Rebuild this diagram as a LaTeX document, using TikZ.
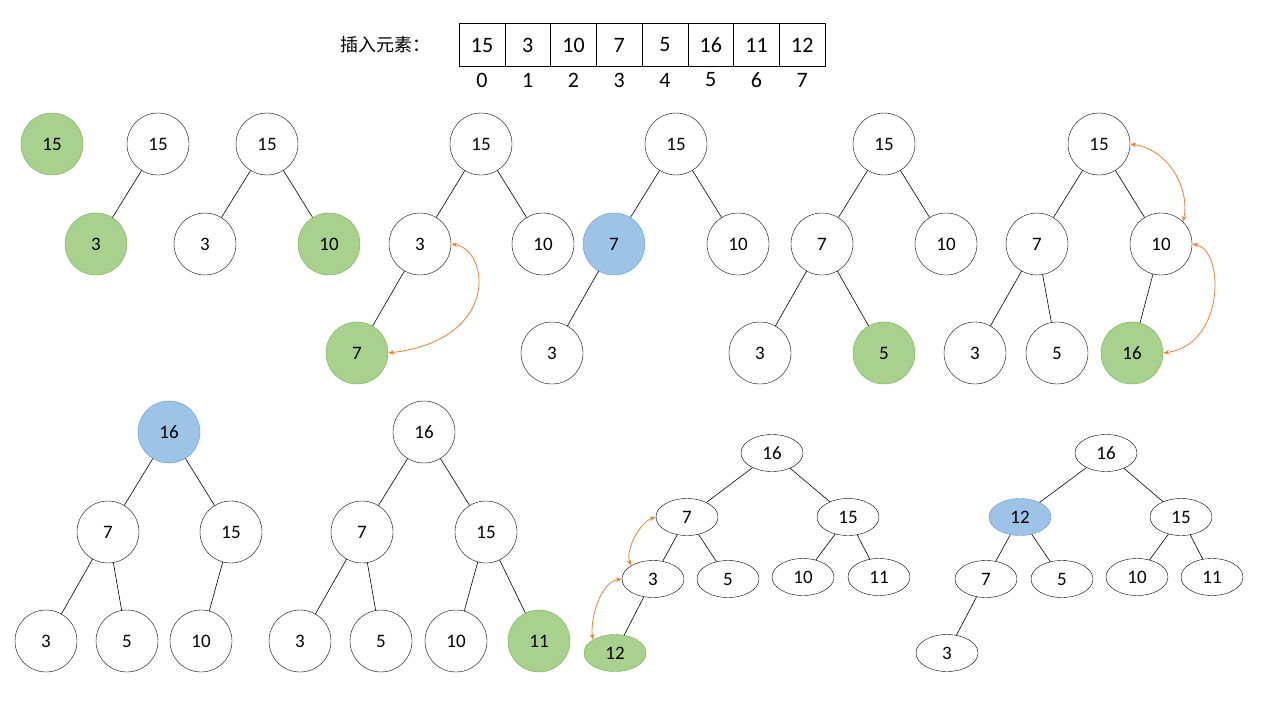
\documentclass[tikz,border=0pt]{standalone}
\usepackage{fontspec}
\setmainfont{Carlito}
\newfontfamily\cjk{Noto Sans CJK SC}
\usetikzlibrary{shapes.geometric,arrows.meta}
\definecolor{gf}{HTML}{A9D18E}\definecolor{gd}{HTML}{70AD47}
\definecolor{bf}{HTML}{9DC3E6}\definecolor{bd}{HTML}{5B9BD5}
\definecolor{org}{HTML}{ED7D31}
\tikzset{
 c/.style={circle,draw=black,fill=white,minimum size=62pt,inner sep=0pt,font=\fontsize{19}{19}\selectfont},
 e/.style={ellipse,draw=black,fill=white,minimum width=62pt,minimum height=37pt,inner sep=0pt,font=\fontsize{19}{19}\selectfont},
 g/.style={fill=gf,draw=gd},
 b/.style={fill=bf,draw=bd},
 cell/.style={draw=black,minimum width=45.75pt,minimum height=43pt,inner sep=0pt,font=\fontsize{22}{22}\selectfont},
 idx/.style={font=\fontsize{22}{22}\selectfont},
 ed/.style={draw=black,line width=0.6pt},
 sw/.style={draw=org,line width=0.8pt,{Stealth[length=6pt]}-{Stealth[length=6pt]}}
}
\begin{document}
\begin{tikzpicture}[x=1pt,y=-1pt]
\useasboundingbox (0,0) rectangle (1280,720);
\node[font=\cjk\fontsize{18}{18}\selectfont] (lab) at (385,45) {插入元素：};
\foreach \v [count=\i from 0] in {15,3,10,7,5,16,11,12}{
 \node[cell] (a\i) at ({482+45.75*\i},45) {\v};
 \node[idx] (i\i) at ({482+45.75*\i},80) {\i};
}
% T1
\node[c,g] (t1a) at (52,144) {15};
% T2
\node[c] (t2a) at (158,144) {15};
\node[c,g] (t2b) at (96,244) {3};
\draw[ed] (t2a)--(t2b);
% T3
\node[c] (t3a) at (267,144) {15};
\node[c] (t3b) at (205,244) {3};
\node[c,g] (t3c) at (329,244) {10};
\draw[ed] (t3a)--(t3b) (t3a)--(t3c);
% T4
\node[c] (t4a) at (481,144) {15};
\node[c] (t4b) at (420,244) {3};
\node[c] (t4c) at (543,244) {10};
\node[c,g] (t4d) at (357,353) {7};
\draw[ed] (t4a)--(t4b) (t4a)--(t4c) (t4b)--(t4d);
\draw[sw] (t4b.east) .. controls (490,250) and (500,340) .. (t4d.east);
% T5
\node[c] (t5a) at (676,144) {15};
\node[c,b] (t5b) at (614,244) {7};
\node[c] (t5c) at (738,244) {10};
\node[c] (t5d) at (552,353) {3};
\draw[ed] (t5a)--(t5b) (t5a)--(t5c) (t5b)--(t5d);
% T6
\node[c] (t6a) at (884,144) {15};
\node[c] (t6b) at (822,244) {7};
\node[c] (t6c) at (946,244) {10};
\node[c] (t6d) at (760,353) {3};
\node[c,g] (t6e) at (884,353) {5};
\draw[ed] (t6a)--(t6b) (t6a)--(t6c) (t6b)--(t6d) (t6b)--(t6e);
% T7
\node[c] (t7a) at (1099,144) {15};
\node[c] (t7b) at (1037,244) {7};
\node[c] (t7c) at (1161,244) {10};
\node[c] (t7d) at (975,353) {3};
\node[c] (t7e) at (1057,353) {5};
\node[c,g] (t7f) at (1132,353) {16};
\draw[ed] (t7a)--(t7b) (t7a)--(t7c) (t7b)--(t7d) (t7b)--(t7e) (t7c)--(t7f);
\draw[sw] (t7a.east) .. controls (1170,150) and (1190,190) .. (t7c.north east);
\draw[sw] (t7c.east) .. controls (1225,250) and (1225,345) .. (t7f.east);
% T8
\node[c,b] (t8a) at (169,432) {16};
\node[c] (t8b) at (108,532) {7};
\node[c] (t8c) at (231,532) {15};
\node[c] (t8d) at (46,641) {3};
\node[c] (t8e) at (127,641) {5};
\node[c] (t8f) at (201,641) {10};
\draw[ed] (t8a)--(t8b) (t8a)--(t8c) (t8b)--(t8d) (t8b)--(t8e) (t8c)--(t8f);
% T9
\node[c] (t9a) at (424,432) {16};
\node[c] (t9b) at (362,532) {7};
\node[c] (t9c) at (486,532) {15};
\node[c] (t9d) at (300,641) {3};
\node[c] (t9e) at (381,641) {5};
\node[c] (t9f) at (456,641) {10};
\node[c,g] (t9g) at (539,641) {11};
\draw[ed] (t9a)--(t9b) (t9a)--(t9c) (t9b)--(t9d) (t9b)--(t9e) (t9c)--(t9f) (t9c)--(t9g);
% T10
\node[e] (u1) at (772,453) {16};
\node[e] (u2) at (687,517) {7};
\node[e] (u3) at (848,517) {15};
\node[e] (u4) at (653,579) {3};
\node[e] (u5) at (728,579) {5};
\node[e] (u6) at (803,577) {10};
\node[e] (u7) at (879,577) {11};
\node[e,g] (u8) at (615,653) {12};
\draw[ed] (u1)--(u2) (u1)--(u3) (u2)--(u4) (u2)--(u5) (u3)--(u6) (u3)--(u7) (u4)--(u8);
\draw[sw] (u2.west) .. controls (640,522) and (625,550) .. (u4.north west);
\draw[sw] (u4.west) .. controls (600,582) and (590,620) .. (u8.north west);
% T11
\node[e] (v1) at (1106,453) {16};
\node[e,b] (v2) at (1020,517) {12};
\node[e] (v3) at (1181,517) {15};
\node[e] (v4) at (986,579) {7};
\node[e] (v5) at (1062,579) {5};
\node[e] (v6) at (1137,577) {10};
\node[e] (v7) at (1212,577) {11};
\node[e] (v8) at (947,653) {3};
\draw[ed] (v1)--(v2) (v1)--(v3) (v2)--(v4) (v2)--(v5) (v3)--(v6) (v3)--(v7) (v4)--(v8);
\end{tikzpicture}
\end{document}
